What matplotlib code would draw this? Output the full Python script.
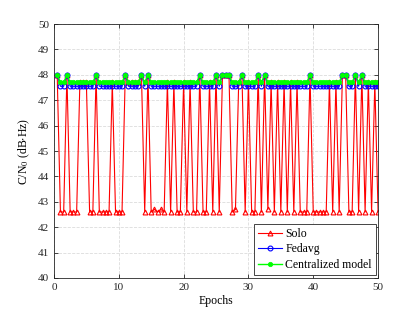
import numpy as np
import matplotlib
matplotlib.use("Agg")
import matplotlib.pyplot as plt

# ==========================
#   DATA
# ==========================
epochs = np.arange(0.5, 50.5, 0.5)

solo = [
    48, 42.6, 42.6, 48, 42.6, 42.6, 42.6, 47.7, 47.7, 47.7,
    42.6, 42.6, 48, 42.6, 42.6, 42.6, 42.6, 47.7, 42.6, 42.6,
    42.6, 48, 47.7, 47.7, 47.7, 47.7, 48, 42.6, 48, 42.6,
    42.7, 42.6, 42.7, 42.6, 47.7, 42.6, 47.7, 42.6, 42.6, 47.7,
    42.6, 47.7, 42.6, 42.6, 48, 42.6, 42.6, 47.7, 42.6, 48,
    42.6, 48, 48, 48, 42.6, 42.7, 47.7, 48, 42.6, 47.7,
    42.6, 42.6, 48, 42.6, 48, 42.7, 47.7, 42.6, 47.7, 42.6,
    47.7, 42.6, 47.7, 42.6, 47.7, 42.6, 42.6, 42.6, 48, 42.6,
    42.6, 42.6, 42.6, 42.6, 47.7, 42.6, 47.7, 42.6, 48, 48,
    42.6, 42.6, 48, 42.6, 48, 42.6, 47.7, 42.6, 47.7, 42.6,
]

fedavg = [
    48, 47.55, 47.55, 48, 47.55, 47.55, 47.55, 47.55, 47.55, 47.55,
    47.55, 47.55, 48, 47.55, 47.55, 47.55, 47.55, 47.55, 47.55, 47.55,
    47.55, 48, 47.55, 47.55, 47.55, 47.55, 48, 47.55, 48, 47.55,
    47.55, 47.55, 47.55, 47.55, 47.55, 47.55, 47.55, 47.55, 47.55, 47.55,
    47.55, 47.55, 47.55, 47.55, 48, 47.55, 47.55, 47.55, 47.55, 48,
    47.55, 48, 48, 48, 47.55, 47.55, 47.55, 48, 47.55, 47.55,
    47.55, 47.55, 48, 47.55, 48, 47.55, 47.55, 47.55, 47.55, 47.55,
    47.55, 47.55, 47.55, 47.55, 47.55, 47.55, 47.55, 47.55, 48, 47.55,
    47.55, 47.55, 47.55, 47.55, 47.55, 47.55, 47.55, 47.55, 48, 48,
    47.55, 47.55, 48, 47.55, 48, 47.55, 47.55, 47.55, 47.55, 47.55,
]

centralized = [
    48, 47.7, 47.7, 48, 47.7, 47.7, 47.7, 47.7, 47.7, 47.7,
    47.7, 47.7, 48, 47.7, 47.7, 47.7, 47.7, 47.7, 47.7, 47.7,
    47.7, 48, 47.7, 47.7, 47.7, 47.7, 48, 47.7, 48, 47.7,
    47.7, 47.7, 47.7, 47.7, 47.7, 47.7, 47.7, 47.7, 47.7, 47.7,
    47.7, 47.7, 47.7, 47.7, 48, 47.7, 47.7, 47.7, 47.7, 48,
    47.7, 48, 48, 48, 47.7, 47.7, 47.7, 48, 47.7, 47.7,
    47.7, 47.7, 48, 47.7, 48, 47.7, 47.7, 47.7, 47.7, 47.7,
    47.7, 47.7, 47.7, 47.7, 47.7, 47.7, 47.7, 47.7, 48, 47.7,
    47.7, 47.7, 47.7, 47.7, 47.7, 47.7, 47.7, 47.7, 48, 48,
    47.7, 47.7, 48, 47.7, 48, 47.7, 47.7, 47.7, 47.7, 47.7,
]

# ==========================
#   Plot
# ==========================
plt.rcParams['font.family'] = ['Liberation Serif', 'DejaVu Serif']
plt.rcParams['mathtext.fontset'] = 'stix'

fig = plt.figure(figsize=(4.15, 3.12), dpi=100)
ax = fig.add_axes([0.130, 0.109, 0.781, 0.814])

ax.plot(epochs, solo, color='#ff0000', marker='^', markersize=3.5,
        markerfacecolor='none', markeredgewidth=0.8, linewidth=0.8,
        label='Solo')
ax.plot(epochs, fedavg, color='#0000ff', marker='o', markersize=3.5,
        markerfacecolor='none', markeredgewidth=0.8, linewidth=0.8,
        label='Fedavg')
ax.plot(epochs, centralized, color='#00ff00', marker='o', markersize=3.2,
        markerfacecolor='#00ff00', markeredgewidth=0.5, linewidth=1.0,
        label='Centralized model')

ax.set_xlim(0, 50)
ax.set_ylim(40, 50)
ax.set_xticks(np.arange(0, 51, 10))
ax.set_yticks(np.arange(40, 51, 1))
ax.tick_params(direction='in', length=3, width=0.6, labelsize=8,
               top=True, right=True, colors='#262626')
for s in ax.spines.values():
    s.set_linewidth(0.6)
    s.set_color('#262626')
ax.grid(True, linestyle='--', color='#dcdcdc', linewidth=0.6)
ax.set_axisbelow(True)

ax.set_xlabel("Epochs", fontsize=8.5, labelpad=2)
ax.set_ylabel(r"C/N$_0$ (dB$\cdot$Hz)", fontsize=8.5, labelpad=4)

leg = ax.legend(loc='lower right', bbox_to_anchor=(0.993, 0.012),
                borderaxespad=0, fontsize=8.5, fancybox=False,
                edgecolor='#262626', framealpha=1, handlelength=2.0,
                handletextpad=0.3, borderpad=0.35, labelspacing=0.3)
leg.get_frame().set_linewidth(0.6)

fig.savefig("out.png", dpi=100)
